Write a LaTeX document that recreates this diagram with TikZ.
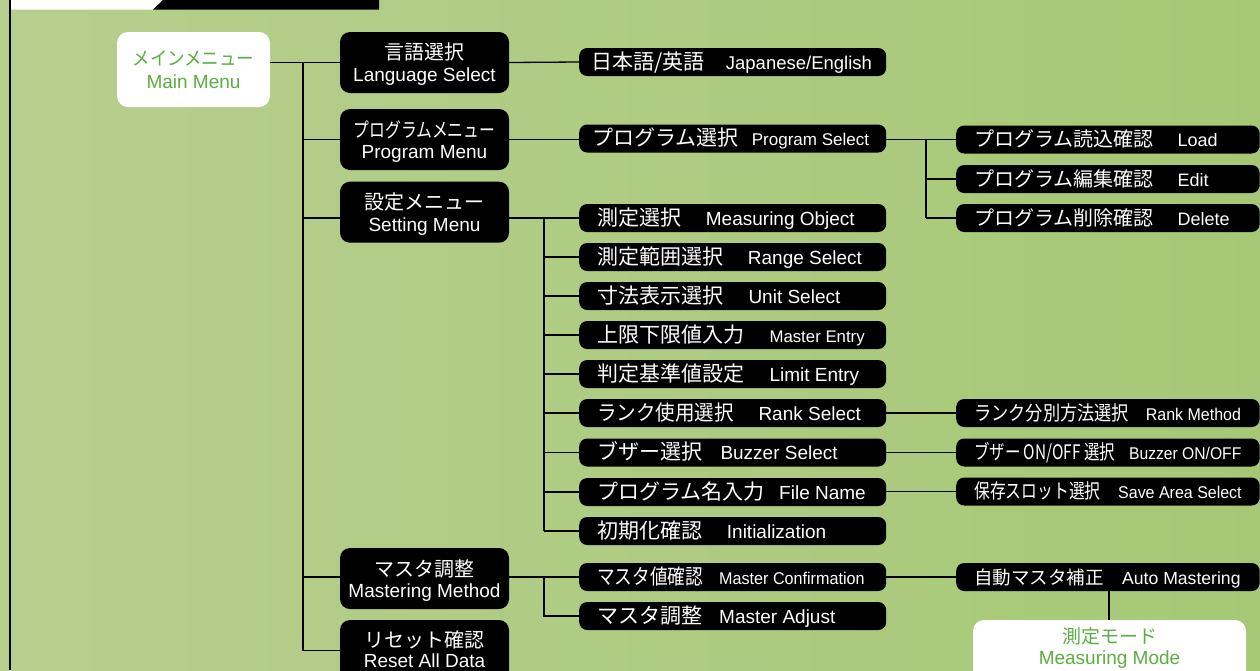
\documentclass[tikz,border=0pt]{standalone}
\usepackage{graphicx}
\usepackage{fontspec}
\setmainfont{Liberation Sans}
\newfontfamily\jpf{Noto Sans CJK JP}
\usetikzlibrary{calc}
\definecolor{bgL}{RGB}{183,207,142}
\definecolor{bgR}{RGB}{166,200,118}
\definecolor{mgreen}{RGB}{92,174,66}
\newcommand\fs[1]{\fontsize{#1}{#1}\selectfont}
% row text: jp-box width, jp size, jp text, en size, en text
\newcommand\rt[5]{\makebox[#1pt][l]{\jpf\fs{#2}#3}{\fs{#4}#5}}
\newcommand\rowtwo[1]{\makebox[271pt][l]{#1}}
\newcommand\rowthree[1]{\makebox[267.5pt][l]{#1}}
\begin{document}
\begin{tikzpicture}[x=1pt,y=-1pt,
  conn/.style={line width=1.3pt,black},
  lonebox/.style={fill=black,rounded corners=10pt,minimum width=169pt,minimum height=61pt,inner sep=0pt},
  wbox/.style={fill=white,rounded corners=11pt,inner sep=0pt},
  ljp/.style={anchor=base,inner sep=0pt,text=white,font=\jpf\fs{20}},
  len/.style={anchor=base,inner sep=0pt,text=white,font=\fs{19}},
  gjp/.style={anchor=base,inner sep=0pt,text=mgreen,font=\jpf\fs{19}},
  gen/.style={anchor=base,inner sep=0pt,text=mgreen,font=\fs{19}},
  ltwo/.style={fill=black,text=white,rounded corners=8pt,anchor=west,inner xsep=18pt,inner ysep=7pt,
     text height=14pt,text depth=0pt},
  lthree/.style={fill=black,text=white,rounded corners=8pt,anchor=west,inner xsep=18pt,inner ysep=7pt,
     text height=14pt,text depth=0pt}]
\useasboundingbox (0,0) rectangle (1260,670);
\clip (0,0) rectangle (1260,670);
\shade[left color=bgL,right color=bgR] (0,0) rectangle (1260,670);
% top banner and left rule
\fill[white] (10.5,0) -- (163,0) -- (153,9.5) -- (10.5,9.5) -- cycle;
\fill[black] (163,0) -- (379,0) -- (379,9.5) -- (153,9.5) -- cycle;
\draw[line width=1.5pt] (10,0) -- (10,670);

% main menu
\node[wbox,minimum width=153pt,minimum height=75pt] (main) at (193.5,69.5) {};
\node[gjp] (mainj) at ([yshift=-34pt]main.north) {\scalebox{0.92}[1]{メインメニュー}};
\node[gen] (maine) at ([yshift=-56.3pt]main.north) {Main Menu};

% level one
\node[lonebox] (lang) at (424.5,62.5) {};
\node[ljp] (langj) at ([yshift=-28pt]lang.north) {言語選択};
\node[len] (lange) at ([yshift=-50pt]lang.north) {Language Select};
\node[lonebox] (pm) at (424.5,139.5) {};
\node[ljp] (pmj) at ([yshift=-28.5pt]pm.north) {\scalebox{0.79}[1]{プログラムメニュー}};
\node[len] (pme) at ([yshift=-50pt]pm.north) {Program Menu};
\node[lonebox] (set) at (424.5,212.2) {};
\node[ljp] (setj) at ([yshift=-27.5pt]set.north) {設定メニュー};
\node[len] (sete) at ([yshift=-49.5pt]set.north) {Setting Menu};
\node[lonebox] (mm) at (424.5,578.5) {};
\node[ljp] (mmj) at ([yshift=-29pt]mm.north) {マスタ調整};
\node[len] (mme) at ([yshift=-50pt]mm.north) {Mastering Method};
\node[lonebox] (rs) at (424.5,650.5) {};
\node[ljp] (rsj) at ([yshift=-28pt]rs.north) {リセット確認};
\node[len] (rse) at ([yshift=-48pt]rs.north) {Reset All Data};

% level two
\node[ltwo] (je) at (579,62) {\rowtwo{\hspace*{-6pt}\rt{134.7}{21}{日本語/英語}{18.5}{Japanese/English}}};
\node[ltwo] (ps) at (579,138.5) {\rowtwo{\hspace*{-5pt}\rt{159.7}{21}{プログラム選択}{17}{Program Select}}};
\node[ltwo] (mo) at (579,218) {\rowtwo{\rt{108.7}{21}{測定選択}{19}{Measuring Object}}};
\node[ltwo] (rg) at (579,257) {\rowtwo{\rt{150.7}{21}{測定範囲選択}{19}{Range Select}}};
\node[ltwo] (un) at (579,296) {\rowtwo{\rt{151.3}{21}{寸法表示選択}{19}{Unit Select}}};
\node[ltwo] (me) at (579,335) {\rowtwo{\rt{172.3}{21}{上限下限値入力}{16.8}{Master Entry}}};
\node[ltwo] (le) at (579,374) {\rowtwo{\rt{172.3}{21}{判定基準値設定}{19}{Limit Entry}}};
\node[ltwo] (rk) at (579,413) {\rowtwo{\rt{161.3}{21}{\scalebox{0.93}[1]{ランク使用選択}}{19}{Rank Select}}};
\node[ltwo] (bz) at (579,452.5) {\rowtwo{\rt{123.3}{21}{ブザー選択}{19}{Buzzer Select}}};
\node[ltwo] (fn) at (579,492) {\rowtwo{\rt{182}{21}{プログラム名入力}{19}{File Name}}};
\node[ltwo] (in) at (579,531) {\rowtwo{\rt{129.7}{21}{初期化確認}{19}{Initialization}}};
\node[ltwo] (mc) at (579,577) {\rowtwo{\rt{122}{21}{\scalebox{0.84}[1]{マスタ値確認}}{17}{\scalebox{0.95}[1]{Master Confirmation}}}};
\node[ltwo] (ma) at (579,616) {\rowtwo{\rt{122}{21}{マスタ調整}{19}{Master Adjust}}};

% level three
\node[lthree] (ld) at (956,139.5) {\rowthree{\rt{203.5}{20}{プログラム読込確認}{18}{Load}}};
\node[lthree] (ed) at (956,179) {\rowthree{\rt{203.5}{20}{プログラム編集確認}{18}{Edit}}};
\node[lthree] (dl) at (956,218) {\rowthree{\rt{203.5}{20}{プログラム削除確認}{18}{Delete}}};
\node[lthree] (rm) at (956,413) {\rowthree{\rt{171.7}{20}{\scalebox{0.86}[1]{ランク分別方法選択}}{17}{\scalebox{0.94}[1]{Rank Method}}}};
\node[lthree] (bo) at (956,452.5) {\rowthree{\rt{155}{20}{\scalebox{0.77}[1]{ブザー ON/OFF 選択}}{17}{\scalebox{0.92}[1]{Buzzer ON/OFF}}}};
\node[lthree] (sa) at (956,491.5) {\rowthree{\rt{144}{20}{\scalebox{0.79}[1]{保存スロット選択}}{17}{\scalebox{0.94}[1]{Save Area Select}}}};
\node[lthree] (am) at (956,577) {\rowthree{\rt{148}{18.5}{自動マスタ補正}{17.6}{Auto Mastering}}};

% measuring mode
\node[wbox,minimum width=273pt,minimum height=75pt] (mmode) at (1109.5,657.5) {};
\node[gjp] (mmodej) at ([yshift=-24pt]mmode.north) {測定モード};
\node[gen] (mmodee) at ([yshift=-45pt]mmode.north) {Measuring Mode};

% trunk coordinates
\coordinate (ta) at (303,0);
\coordinate (tb) at (544,0);
\coordinate (tc) at (926,0);
\coordinate (td) at (1109,0);

% connectors
\draw[conn] (main.east |- lang) -- (lang.west);
\draw[conn] (ta |- lang) -- (ta |- rs);
\draw[conn] (ta |- pm) -- (pm.west);
\draw[conn] (ta |- mo) -- (set.west |- mo);
\draw[conn] (ta |- mc) -- (mm.west |- mc);
\draw[conn] (ta |- rs) -- (rs.west);
\draw[conn] (lang.east) -- (je.west);
\draw[conn] (pm.east |- ld) -- (ps.west |- ld);
\draw[conn] (set.east |- mo) -- (mo.west);
\draw[conn] (tb |- mo) -- (tb |- in);
\foreach \n in {rg,un,me,le,rk,bz,fn,in} \draw[conn] (tb |- \n) -- (\n.west);
\draw[conn] (mm.east |- mc) -- (mc.west);
\draw[conn] (tb |- mc) -- (tb |- ma) -- (ma.west);
\draw[conn] (ps.east |- ld) -- (ld.west);
\draw[conn] (tc |- ld) -- (tc |- dl);
\draw[conn] (tc |- ed) -- (ed.west);
\draw[conn] (tc |- dl) -- (dl.west);
\draw[conn] (rk.east) -- (rm.west);
\draw[conn] (bz.east) -- (bo.west);
\draw[conn] (fn.east |- sa) -- (sa.west);
\draw[conn] (mc.east) -- (am.west);
\draw[conn] (td |- am.south) -- (td |- mmode.north);
\end{tikzpicture}
\end{document}
